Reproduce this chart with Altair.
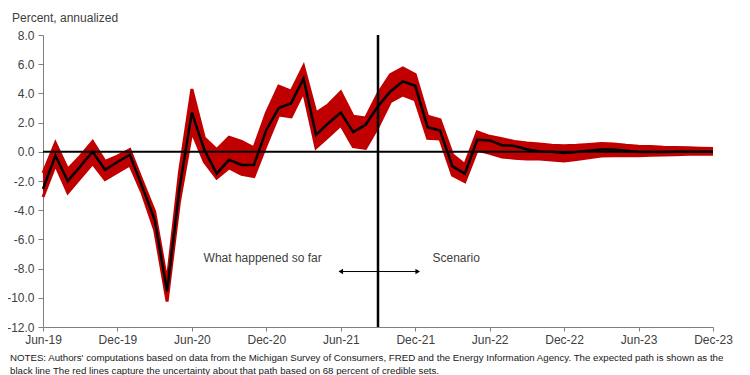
import altair as alt
import pandas as pd

# month index 0 = Jun-2019 ... 54 = Dec-2023
months = list(range(55))

expected = [-2.55, -0.27, -2.0, -1.0, 0.0, -1.23, -0.7, -0.2, -2.4, -4.66,
            -9.55, -2.5, 2.68, 0.14, -1.5, -0.55, -0.9, -0.9, 1.5, 3.0,
            3.33, 5.03, 1.16, 1.96, 2.69, 1.35, 1.85, 3.12, 4.13, 4.82,
            4.52, 1.69, 1.46, -1.0, -1.5, 0.82, 0.78, 0.45, 0.4, 0.18,
            0.02, 0.0, -0.08, -0.02, 0.07, 0.16, 0.16, 0.07, -0.02, -0.02,
            -0.02, 0.0, 0.0, 0.0, 0.0]

upper = [-1.45, 0.6, -1.2, -0.3, 0.7, -0.65, -0.3, 0.15, -2.0, -4.1,
         -8.9, -1.4, 4.3, 0.95, 0.15, 1.0, 0.72, 0.27, 2.66, 4.5,
         4.15, 5.86, 2.66, 3.23, 4.1, 2.43, 2.32, 4.0, 5.29, 5.74,
         5.29, 2.43, 2.2, -0.19, -0.88, 1.36, 1.06, 0.9, 0.7, 0.6,
         0.54, 0.45, 0.42, 0.45, 0.5, 0.56, 0.54, 0.45, 0.38, 0.36,
         0.31, 0.29, 0.27, 0.24, 0.22]

lower = [-3.1, -0.9, -2.8, -1.8, -0.8, -1.9, -1.4, -0.9, -2.85, -5.35,
         -10.25, -3.4, 1.38, -0.68, -1.8, -1.1, -1.54, -1.7, 0.47, 2.52,
         2.4, 4.1, 0.28, 1.04, 1.83, 0.35, 0.24, 1.7, 3.43, 3.89,
         3.55, 0.92, 0.88, -1.6, -2.05, 0.12, -0.1, -0.35, -0.45, -0.5,
         -0.5, -0.56, -0.63, -0.52, -0.4, -0.29, -0.27, -0.27, -0.27, -0.24,
         -0.22, -0.2, -0.17, -0.17, -0.17]

x_tick_values = [0, 6, 12, 18, 24, 30, 36, 42, 48, 54]
x_tick_labels = ["Jun-19", "Dec-19", "Jun-20", "Dec-20", "Jun-21",
                 "Dec-21", "Jun-22", "Dec-22", "Jun-23", "Dec-23"]
y_tick_values = [8, 6, 4, 2, 0, -2, -4, -6, -8, -10, -12]

scenario_start = [27]
arrow_span = [24.0, 30.2]
arrow_level = [-8.2]

labels_text = ["What happened so far", "Scenario"]
labels_x = [17.7, 33.3]
labels_y = [-7.3, -7.3]

unit_text = "Percent, annualized"
notes_line1 = "NOTES: Authors' computations based on data from the Michigan Survey of Consumers, FRED and the Energy Information Agency. The expected path is shown as the"
notes_line2 = "black line The red lines capture the uncertainty about that path based on 68 percent of credible sets."

FONT = "Liberation Sans"
RED = "#C00000"
GREY_TXT = "#404040"

df = pd.DataFrame({"t": months, "mid": expected, "hi": upper, "lo": lower})

label_expr = "[" + ",".join("'" + s + "'" for s in x_tick_labels) + "][floor(datum.value/6)]"

x_scale = alt.Scale(domain=[0, 54], nice=False, zero=False)
y_scale = alt.Scale(domain=[-12, 8], nice=False)

x_axis = alt.Axis(values=x_tick_values, labelExpr=label_expr, title=None,
                  grid=False, domainColor="#808080", tickColor="#808080",
                  tickSize=4, labelPadding=3, labelFont=FONT, labelFontSize=12,
                  labelColor=GREY_TXT, labelFlush=False, labelOverlap=False)
y_axis = alt.Axis(values=y_tick_values,
                  labelExpr="(datum.value < 0 ? '-' : '') + format(abs(datum.value), '.1f')",
                  title=None, grid=False, domainColor="#808080", tickColor="#808080",
                  tickSize=5, labelPadding=4, labelFont=FONT, labelFontSize=12,
                  labelColor=GREY_TXT, labelOverlap=False, labelFlush=False)


def X(field):
    return alt.X(field, scale=x_scale, axis=x_axis)


def Y(field):
    return alt.Y(field, scale=y_scale, axis=y_axis)


base = alt.Chart(df)

band = base.mark_area(color=RED, opacity=1).encode(x=X("t:Q"), y=Y("lo:Q"), y2="hi:Q")
edge_hi = base.mark_line(color=RED, strokeWidth=3).encode(x=X("t:Q"), y=Y("hi:Q"))
edge_lo = base.mark_line(color=RED, strokeWidth=3).encode(x=X("t:Q"), y=Y("lo:Q"))

zero_df = pd.DataFrame({"x": [0], "x2": [54], "y": [0]})
zero_rule = alt.Chart(zero_df).mark_rule(color="black", strokeWidth=2).encode(
    x=X("x:Q"), x2="x2:Q", y=Y("y:Q"))

mid_line = base.mark_line(color="black", strokeWidth=2.5).encode(x=X("t:Q"), y=Y("mid:Q"))

v_df = pd.DataFrame({"x": scenario_start, "y": [8], "y2": [-12]})
v_rule = alt.Chart(v_df).mark_rule(color="black", strokeWidth=2.5).encode(
    x=X("x:Q"), y=Y("y:Q"), y2="y2:Q")

arr_df = pd.DataFrame({"x": [arrow_span[0]], "x2": [arrow_span[1]], "y": arrow_level})
arr_rule = alt.Chart(arr_df).mark_rule(color="black", strokeWidth=1).encode(
    x=X("x:Q"), x2="x2:Q", y=Y("y:Q"))
head_df = pd.DataFrame({"x": arrow_span, "y": arrow_level * 2,
                        "shape": ["triangle-left", "triangle-right"]})
heads = alt.Chart(head_df).mark_point(filled=True, color="black", size=28, opacity=1).encode(
    x=X("x:Q"), y=Y("y:Q"), shape=alt.Shape("shape:N", scale=None))

lab_df = pd.DataFrame({"x": labels_x, "y": labels_y, "text": labels_text})
labels = alt.Chart(lab_df).mark_text(font=FONT, fontSize=12, color=GREY_TXT,
                                     align="center", baseline="middle").encode(
    x=X("x:Q"), y=Y("y:Q"), text="text:N")

unit_df = pd.DataFrame({"text": [unit_text]})
unit_lbl = alt.Chart(unit_df).mark_text(font=FONT, fontSize=12, color=GREY_TXT,
                                        align="left", baseline="alphabetic").encode(
    x=alt.value(-31), y=alt.value(-13), text="text:N")

n1_df = pd.DataFrame({"text": [notes_line1]})
n2_df = pd.DataFrame({"text": [notes_line2]})
notes1 = alt.Chart(n1_df).mark_text(font=FONT, fontSize=9.7, color="#202020",
                                    align="left", baseline="alphabetic").encode(
    x=alt.value(-33), y=alt.value(326), text="text:N")
notes2 = alt.Chart(n2_df).mark_text(font=FONT, fontSize=9.7, color="#202020",
                                    align="left", baseline="alphabetic").encode(
    x=alt.value(-33), y=alt.value(339), text="text:N")

chart = alt.layer(band, edge_hi, edge_lo, mid_line, zero_rule, v_rule,
                  arr_rule, heads, labels, unit_lbl, notes1, notes2).properties(
    width=670, height=292,
    autosize=alt.AutoSizeParams(type="none"),
    padding={"left": 35, "top": 27, "right": 29, "bottom": 48},
    background="white",
).configure_view(strokeWidth=0, stroke=None)

chart.save("out.html", embed_options={"renderer": "svg", "actions": False})
